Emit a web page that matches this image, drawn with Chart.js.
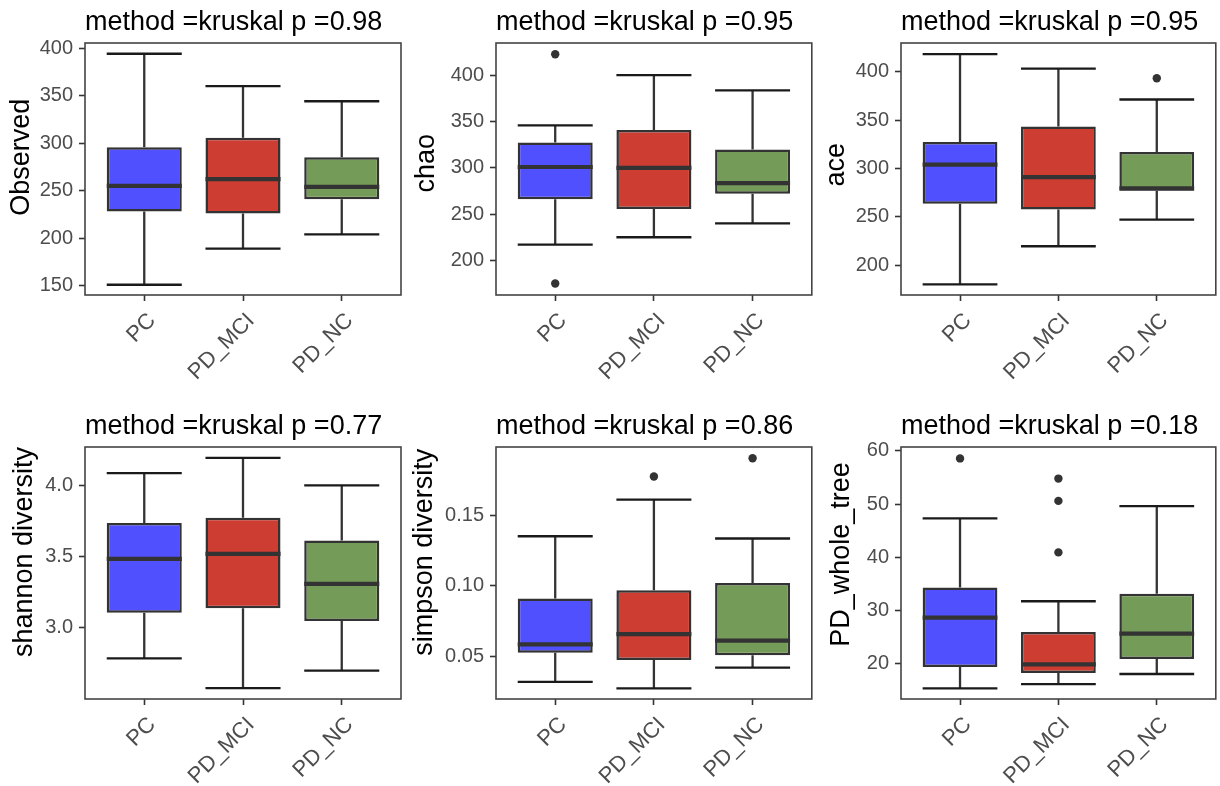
<!DOCTYPE html>
<html>
<head>
<meta charset="utf-8">
<script src="https://cdn.jsdelivr.net/npm/chart.js@4.4.0/dist/chart.umd.min.js"></script>
<style>
  html, body { margin: 0; padding: 0; background: #fff; }
  #wrap { position: relative; width: 1220px; height: 786px; overflow: hidden; }
  #wrap canvas { position: absolute; }
</style>
</head>
<body>
<div id="wrap"></div>
<script>
const groups = ['PC', 'PD_MCI', 'PD_NC'];
const boxColors = ['#5050FF', '#CE3D32', '#749B58'];

// each box: [lower whisker, Q1, median, Q3, upper whisker]
const observedBox = [[151, 228, 255, 295.5, 394], [189, 226, 262, 305.5, 360], [204, 241, 254, 285, 344]];
const observedOut = [[], [], []];
const observedTicks = [150, 200, 250, 300, 350, 400];

const chaoBox = [[217, 266, 301, 327.5, 346], [225, 255.5, 300, 341, 400.5], [240, 272, 283.5, 320, 384]];
const chaoOut = [[423, 175], [], []];
const chaoTicks = [200, 250, 300, 350, 400];

const aceBox = [[180, 263.5, 304, 327.5, 418.5], [219.5, 257.5, 291, 343.5, 403.5], [247, 277, 279.5, 317, 371.5]];
const aceOut = [[], [], [393.5]];
const aceTicks = [200, 250, 300, 350, 400];

const shannonBox = [[2.785, 3.105, 3.484, 3.736, 4.086], [2.577, 3.138, 3.519, 3.773, 4.194], [2.699, 3.047, 3.308, 3.614, 4.0]];
const shannonOut = [[], [], []];
const shannonTicks = [3.0, 3.5, 4.0];

const simpsonBox = [[0.0318, 0.0526, 0.0585, 0.091, 0.1353], [0.0273, 0.0474, 0.0658, 0.0969, 0.1613], [0.042, 0.0507, 0.0611, 0.1021, 0.1337]];
const simpsonOut = [[], [0.1777], [0.1907]];
const simpsonTicks = [0.05, 0.10, 0.15];

const pdBox = [[15.3, 19.3, 28.6, 34.3, 47.3], [16.1, 18.2, 19.8, 25.9, 31.7], [18.0, 20.8, 25.6, 33.1, 49.6]];
const pdOut = [[58.6], [54.8, 50.6, 40.9], []];
const pdTicks = [20, 30, 40, 50, 60];

const yLabels = ['Observed', 'chao', 'ace', 'shannon diversity', 'simpson diversity', 'PD_whole_tree'];
const pValues = ['0.98', '0.95', '0.95', '0.77', '0.86', '0.18'];

const FONT = '"Liberation Sans", Arial, Helvetica, sans-serif';
Chart.defaults.font.family = FONT;

// canvas: [left, top, width, height], plot: [left, top, right, bottom] in page px
const panels = [
  { box: observedBox, out: observedOut, ticks: observedTicks, dec: 0, min: 140.2, max: 405.3,
    canvas: [0, 0, 406, 393], plot: [85, 43, 401, 295], titleX: 22 },
  { box: chaoBox, out: chaoOut, ticks: chaoTicks, dec: 0, min: 162.5, max: 435.2,
    canvas: [408, 0, 408, 393], plot: [496, 43, 812, 295], titleX: 427 },
  { box: aceBox, out: aceOut, ticks: aceTicks, dec: 0, min: 169, max: 430,
    canvas: [816, 0, 404, 393], plot: [901, 43, 1217, 295], titleX: 837 },
  { box: shannonBox, out: shannonOut, ticks: shannonTicks, dec: 1, min: 2.50, max: 4.27,
    canvas: [0, 393, 406, 393], plot: [85, 447, 401, 699], titleX: 25 },
  { box: simpsonBox, out: simpsonOut, ticks: simpsonTicks, dec: 2, min: 0.0197, max: 0.1987,
    canvas: [408, 393, 408, 393], plot: [496, 447, 812, 699], titleX: 425 },
  { box: pdBox, out: pdOut, ticks: pdTicks, dec: 0, min: 13.29, max: 60.75,
    canvas: [816, 393, 404, 393], plot: [901, 447, 1217, 699], titleX: 842 }
];

function makeBoxParts(cfg, idx) {
  return {
    id: 'boxParts' + idx,
    beforeDatasetsDraw(chart) {
      const { ctx, scales: { x, y } } = chart;
      const bars = chart.getDatasetMeta(0).data;
      ctx.save();
      cfg.box.forEach((b, i) => {
        const px = x.getPixelForValue(i + 1);
        const half = bars[i].width / 2;
        ctx.strokeStyle = '#333333';
        ctx.lineWidth = 2.3;
        ctx.beginPath();
        ctx.moveTo(px, y.getPixelForValue(b[3]));
        ctx.lineTo(px, y.getPixelForValue(b[4]));
        ctx.moveTo(px, y.getPixelForValue(b[1]));
        ctx.lineTo(px, y.getPixelForValue(b[0]));
        ctx.stroke();
        ctx.strokeStyle = '#1a1a1a';
        ctx.beginPath();
        [b[0], b[4]].forEach(v => {
          const py = y.getPixelForValue(v);
          ctx.moveTo(px - half, py);
          ctx.lineTo(px + half, py);
        });
        ctx.stroke();
      });
      ctx.restore();
    },
    afterDatasetsDraw(chart) {
      const { ctx, scales: { x, y } } = chart;
      const bars = chart.getDatasetMeta(0).data;
      ctx.save();
      ctx.strokeStyle = '#333333';
      ctx.lineWidth = 4.2;
      cfg.box.forEach((b, i) => {
        const px = x.getPixelForValue(i + 1);
        const half = bars[i].width / 2;
        const py = y.getPixelForValue(b[2]);
        ctx.beginPath();
        ctx.moveTo(px - half, py);
        ctx.lineTo(px + half, py);
        ctx.stroke();
      });
      ctx.restore();
    },
    afterDraw(chart) {
      const { ctx, chartArea: a } = chart;
      ctx.save();
      ctx.strokeStyle = '#444444';
      ctx.lineWidth = 1.6;
      ctx.strokeRect(a.left, a.top, a.right - a.left, a.bottom - a.top);

      ctx.fillStyle = '#000';
      ctx.font = '27px ' + FONT;
      ctx.textAlign = 'left';
      ctx.textBaseline = 'alphabetic';
      ctx.fillText('method =kruskal p =' + pValues[idx], a.left, a.top - 13);

      const label = yLabels[idx];
      const w = ctx.measureText(label).width;
      ctx.translate(cfg.titleX - cfg.canvas[0], (a.top + a.bottom) / 2 - 0.1 * w);
      ctx.rotate(-Math.PI / 2);
      ctx.textAlign = 'center';
      ctx.textBaseline = 'middle';
      ctx.fillText(label, 0, 0);
      ctx.restore();
    }
  };
}

function renderPanel(cfg, idx) {
  const [cx, cy, cw, ch] = cfg.canvas;
  const [pl, pt, pr, pb] = cfg.plot;
  const canvas = document.createElement('canvas');
  canvas.width = cw;
  canvas.height = ch;
  canvas.style.left = cx + 'px';
  canvas.style.top = cy + 'px';
  canvas.style.width = cw + 'px';
  canvas.style.height = ch + 'px';
  document.getElementById('wrap').appendChild(canvas);

  const outPoints = [];
  cfg.out.forEach((vals, i) => vals.forEach(v => outPoints.push({ x: i + 1, y: v })));

  new Chart(canvas, {
    type: 'bar',
    data: {
      datasets: [
        {
          data: cfg.box.map((b, i) => ({ x: i + 1, y: [b[1], b[3]] })),
          backgroundColor: boxColors,
          borderColor: '#333333',
          borderWidth: 2.5,
          borderSkipped: false,
          categoryPercentage: 1,
          barPercentage: 0.76
        },
        {
          type: 'scatter',
          data: outPoints,
          pointRadius: 4.2,
          pointBackgroundColor: '#333333',
          pointBorderWidth: 0
        }
      ]
    },
    options: {
      responsive: false,
      animation: false,
      devicePixelRatio: 1,
      layout: { padding: { left: 0, top: pt - cy, right: cx + cw - pr, bottom: 0 } },
      plugins: { legend: { display: false }, tooltip: { enabled: false } },
      scales: {
        x: {
          type: 'linear',
          min: 0.4,
          max: 3.6,
          offset: false,
          afterBuildTicks: s => { s.ticks = groups.map((g, i) => ({ value: i + 1 })); },
          afterFit: s => { s.height = cy + ch - pb; },
          ticks: {
            callback: v => groups[v - 1],
            autoSkip: false,
            minRotation: 45,
            maxRotation: 45,
            padding: 7,
            labelOffset: 8,
            color: '#4D4D4D',
            font: { size: 22 }
          },
          grid: { display: true, offset: false, drawOnChartArea: false, drawTicks: true, tickLength: 6, tickColor: '#333333', tickWidth: 1.6 },
          border: { display: false }
        },
        y: {
          type: 'linear',
          min: cfg.min,
          max: cfg.max,
          beginAtZero: false,
          afterBuildTicks: s => { s.ticks = cfg.ticks.map(v => ({ value: v })); },
          afterFit: s => { s.width = pl - cx; },
          ticks: {
            callback: v => v.toFixed(cfg.dec),
            padding: 6,
            color: '#4D4D4D',
            font: { size: 20 }
          },
          grid: { display: true, drawOnChartArea: false, drawTicks: true, tickLength: 6, tickColor: '#333333', tickWidth: 1.6 },
          border: { display: false }
        }
      }
    },
    plugins: [makeBoxParts(cfg, idx)]
  });
}

panels.forEach(renderPanel);
</script>
</body>
</html>
